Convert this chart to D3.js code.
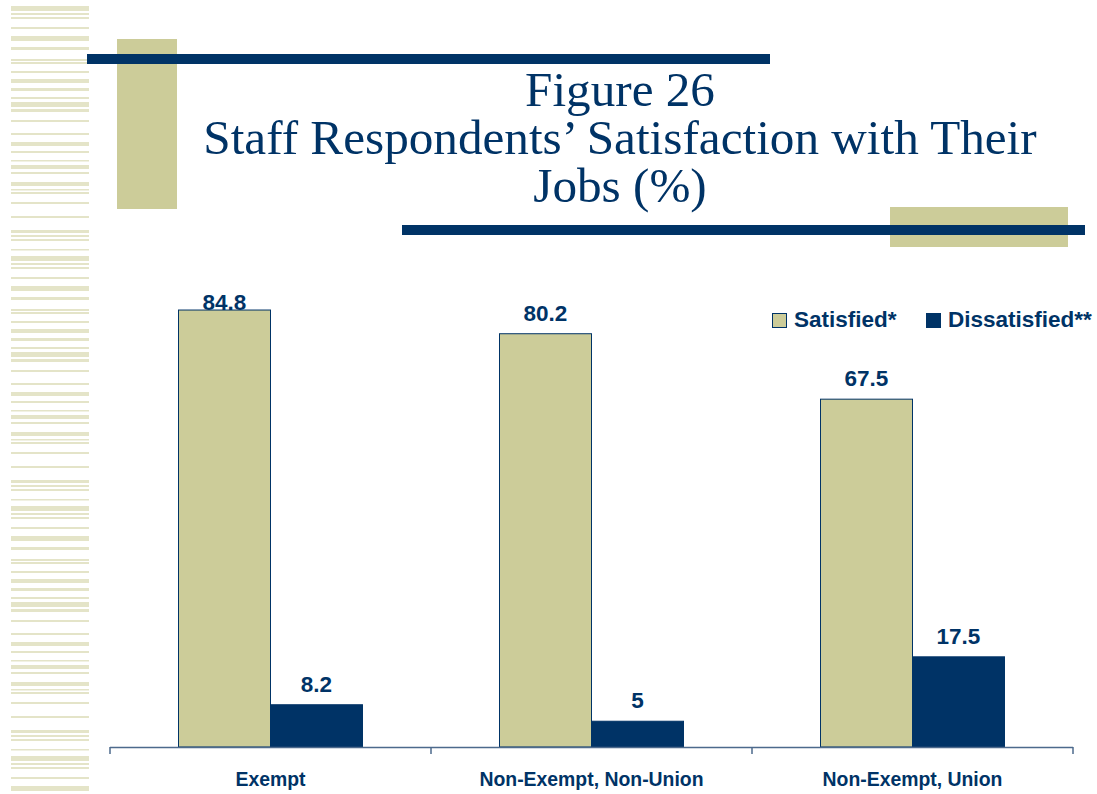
<!DOCTYPE html>
<html><head><meta charset="utf-8">
<script src="https://cdn.jsdelivr.net/npm/d3@7"></script>
<style>body{margin:0;background:#fff}svg{display:block}</style>
</head><body>
<svg id="c" width="1097" height="794"></svg>
<script>
const categories = ["Exempt", "Non-Exempt, Non-Union", "Non-Exempt, Union"];
const series = ["Satisfied*", "Dissatisfied**"];
const satisfied = [84.8, 80.2, 67.5];
const dissatisfied = [8.2, 5, 17.5];
const titleLines = ["Figure 26", "Staff Respondents\u2019 Satisfaction with Their", "Jobs (%)"];

const NAVY = "#003366", KHAKI = "#CCCC99", STRIPE = "#e4e4c8";
const svg = d3.select("#c");

// decorative left stripes (repeating band pattern)
const stripePattern = [[6,5],[13,2],[17,2],[27,2],[36,5],[47,3],[59,2],[62,2],[71,2],[79,4],[88,3],[97,2],[102,5],[109,3],[120,2],[133,2],[142,4],[151,2],[160,1.5],[165,4],[172,2],[182,4],[189,1.5],[192,2],[202,2],[216,2],[230,3],[235,2],[239,2],[249,1.5]];
const stripes = [];
for (let off = 0; off < 794; off += 250) stripePattern.forEach(([y,h]) => { if (y+off < 794) stripes.push([y+off,h]); });
svg.append("g").selectAll("rect").data(stripes).join("rect")
  .attr("x", 11).attr("width", 78).attr("y", d => d[0]).attr("height", d => d[1]).attr("fill", STRIPE);

// title decorations
svg.append("rect").attr("x",117).attr("y",39).attr("width",60).attr("height",170).attr("fill",KHAKI);
svg.append("rect").attr("x",87).attr("y",54).attr("width",683).attr("height",10).attr("fill",NAVY);
svg.append("rect").attr("x",890).attr("y",207).attr("width",178).attr("height",40).attr("fill",KHAKI);
svg.append("rect").attr("x",402).attr("y",225).attr("width",683).attr("height",10).attr("fill",NAVY);

const title = svg.append("text")
  .attr("text-anchor","middle").attr("fill",NAVY)
  .style("font-family","'Liberation Serif','Times New Roman',serif").style("font-size","49.2px");
title.selectAll("tspan").data(titleLines).join("tspan")
  .attr("x", 620).attr("y", (d,i) => 106 + i*48)
  .text(d => d);

// chart
const baseY = 747;
const x = d3.scaleBand().domain(categories).range([110, 1073]).padding(0);
const bw = x.bandwidth();
const xs = d3.scaleBand().domain(series).range([bw/2 - 92, bw/2 + 92]).padding(0);
const y = d3.scaleLinear().domain([0, 90]).range([baseY, baseY - 90*5.153]);
const colors = {"Satisfied*": KHAKI, "Dissatisfied**": NAVY};
const plotTop = 293;

const data = [];
categories.forEach((c,i) => {
  data.push({c, s: series[0], v: satisfied[i]});
  data.push({c, s: series[1], v: dissatisfied[i]});
});

const g = svg.append("g");
g.selectAll("rect.bar").data(data).join("rect").attr("class","bar")
  .attr("x", d => x(d.c) + xs(d.s)).attr("width", xs.bandwidth())
  .attr("y", d => y(d.v)).attr("height", d => baseY - y(d.v))
  .attr("fill", d => colors[d.s])
  .attr("stroke", NAVY).attr("stroke-width", 1);

g.selectAll("text.lbl").data(data).join("text").attr("class","lbl")
  .attr("x", d => x(d.c) + xs(d.s) + xs.bandwidth()/2)
  .attr("y", d => Math.max(y(d.v) - 13, plotTop + 17))
  .attr("text-anchor","middle").attr("fill",NAVY)
  .style("font-family","'Liberation Sans',Arial,sans-serif").style("font-weight","bold").style("font-size","22.5px")
  .text(d => d.v);

// axis
const axisG = svg.append("g");
axisG.append("line").attr("x1",110).attr("x2",1073).attr("y1",baseY+0.5).attr("y2",baseY+0.5).attr("stroke","#4d6a8c").attr("stroke-width",1.5);
const tickXs = categories.map(c => x(c)).concat([x(categories[categories.length-1]) + bw]);
axisG.selectAll("line.t").data(tickXs).join("line").attr("class","t")
  .attr("x1", d => d).attr("x2", d => d).attr("y1", baseY).attr("y2", baseY+7)
  .attr("stroke","#4d6a8c").attr("stroke-width",1.5);
axisG.selectAll("text").data(categories).join("text")
  .attr("x", d => x(d) + bw/2).attr("y", 786)
  .attr("text-anchor","middle").attr("fill",NAVY)
  .style("font-family","'Liberation Sans',Arial,sans-serif").style("font-weight","bold").style("font-size","19.4px")
  .text(d => d);

// legend
const legX = [772, 926];
const leg = svg.append("g").selectAll("g").data(series).join("g")
  .attr("transform", (d,i) => `translate(${legX[i]},313)`);
leg.append("rect").attr("x",0.5).attr("y",0.5).attr("width",14).attr("height",14)
  .attr("fill", d => colors[d]).attr("stroke", NAVY).attr("stroke-width",1);
leg.append("text").attr("x",22).attr("y",14).attr("fill",NAVY)
  .style("font-family","'Liberation Sans',Arial,sans-serif").style("font-weight","bold").style("font-size","22.5px")
  .text(d => d);
</script>
</body></html>
